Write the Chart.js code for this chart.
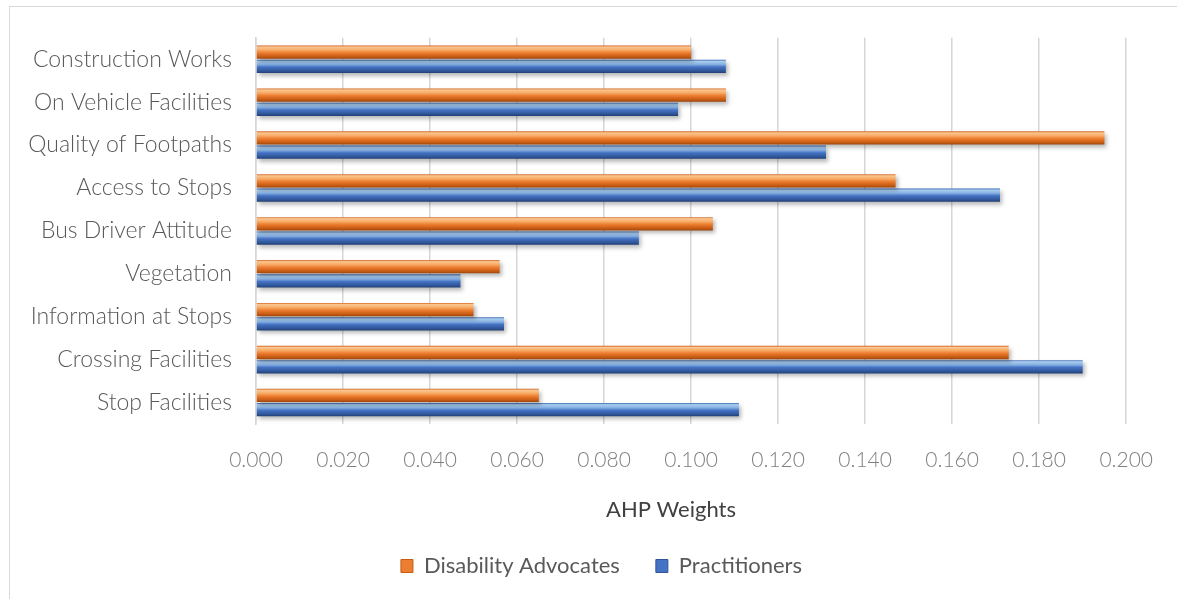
<!DOCTYPE html>
<html>
<head>
<meta charset="utf-8">
<script src="https://cdn.jsdelivr.net/npm/chart.js@4.4.1/dist/chart.umd.min.js"></script>
<style>
  html, body { margin: 0; padding: 0; background: #fff; }
  #wrap { position: relative; width: 1177px; height: 599px; overflow: hidden; }
  #frame { position: absolute; left: 9px; top: 6px; width: 1200px; height: 620px; border: 1px solid #d9d9d9; box-sizing: border-box; }
  canvas { position: absolute; left: 0; top: 0; }
</style>
</head>
<body>
<div id="wrap">
  <div id="frame"></div>
  <canvas id="chart" width="1177" height="599"></canvas>
</div>
<script>
const categories = [
  'Construction Works',
  'On Vehicle Facilities',
  'Quality of Footpaths',
  'Access to Stops',
  'Bus Driver Attitude',
  'Vegetation',
  'Information at Stops',
  'Crossing Facilities',
  'Stop Facilities'
];
const advocates = [0.100, 0.108, 0.195, 0.147, 0.105, 0.056, 0.050, 0.173, 0.065];
const practitioners = [0.108, 0.097, 0.131, 0.171, 0.088, 0.047, 0.057, 0.190, 0.111];
const xTicks = [0, 0.02, 0.04, 0.06, 0.08, 0.1, 0.12, 0.14, 0.16, 0.18, 0.2];
const axisTitle = 'AHP Weights';

const fontFamily = 'Lato, "Open Sans", sans-serif';

// colour stops for the bevelled bar look
const shades = {
  orange: ['#d06420', '#fbc690', '#f6a962', '#ed7d31', '#c55a11', '#9c4610'],
  blue: ['#3a65b0', '#a9cdee', '#86b0e2', '#4472c4', '#2f5597', '#203f73']
};

const barLook = {
  id: 'barLook',
  beforeDatasetDraw(chart, args) {
    const ctx = chart.ctx;
    const c = shades[args.index === 0 ? 'orange' : 'blue'];
    args.meta.data.forEach(el => {
      const top = el.y - el.height / 2;
      const g = ctx.createLinearGradient(0, top, 0, top + el.height);
      g.addColorStop(0, c[0]);
      g.addColorStop(0.12, c[1]);
      g.addColorStop(0.35, c[2]);
      g.addColorStop(0.55, c[3]);
      g.addColorStop(0.85, c[4]);
      g.addColorStop(1, c[5]);
      el.options.backgroundColor = g;
    });
    ctx.save();
    ctx.shadowColor = 'rgba(0,0,0,0.28)';
    ctx.shadowBlur = 4;
    ctx.shadowOffsetX = 2;
    ctx.shadowOffsetY = 3;
  },
  afterDatasetDraw(chart) {
    chart.ctx.restore();
  }
};

// legend and axis title sit centred on the whole frame, not the plot
const placeText = {
  id: 'placeText',
  afterLayout(chart) {
    chart.legend.left += 33;
    chart.legend.right += 33;
  },
  afterDraw(chart) {
    const ctx = chart.ctx;
    ctx.save();
    ctx.fillStyle = '#404040';
    ctx.font = '22px ' + fontFamily;
    ctx.textAlign = 'center';
    ctx.textBaseline = 'middle';
    ctx.fillText(axisTitle, 671, 510);
    ctx.restore();
  }
};

new Chart(document.getElementById('chart'), {
  type: 'bar',
  data: {
    labels: categories,
    datasets: [
      {
        label: 'Disability Advocates',
        data: advocates,
        backgroundColor: () => '#ed7d31',
        borderWidth: 0
      },
      {
        label: 'Practitioners',
        data: practitioners,
        backgroundColor: () => '#4472c4',
        borderWidth: 0
      }
    ]
  },
  options: {
    indexAxis: 'y',
    responsive: false,
    animation: false,
    categoryPercentage: 0.665,
    barPercentage: 0.93,
    layout: { padding: { top: 33, right: 50, left: 10, bottom: 12 } },
    plugins: {
      tooltip: { enabled: false },
      legend: {
        position: 'bottom',
        labels: {
          boxWidth: 12,
          boxHeight: 13,
          padding: 36,
          color: '#595959',
          font: { family: fontFamily, size: 22 },
          generateLabels(chart) {
            return chart.data.datasets.map((ds, i) => ({
              text: ds.label,
              fillStyle: i === 0 ? '#ed7d31' : '#4472c4',
              strokeStyle: i === 0 ? '#c55a11' : '#2f5597',
              lineWidth: 1,
              datasetIndex: i,
              fontColor: '#595959'
            }));
          }
        }
      }
    },
    scales: {
      x: {
        min: 0,
        max: 0.2,
        afterBuildTicks(scale) {
          scale.ticks = xTicks.map(v => ({ value: v }));
        },
        afterFit(scale) { scale.height = 95; },
        grid: { color: '#d6d6d6', lineWidth: 1.5, drawTicks: false },
        border: { display: false },
        ticks: {
          padding: 24,
          color: '#7f7f7f',
          font: { family: fontFamily, size: 21, weight: '300' },
          callback: v => Number(v).toFixed(3)
        }
      },
      y: {
        afterFit(scale) { scale.width = 246; },
        grid: { display: false, drawTicks: false },
        border: { display: true, color: '#d6d6d6', width: 1.5 },
        ticks: {
          padding: 24,
          color: '#595959',
          font: { family: fontFamily, size: 23, weight: '300' }
        }
      }
    }
  },
  plugins: [barLook, placeText]
});
</script>
</body>
</html>
